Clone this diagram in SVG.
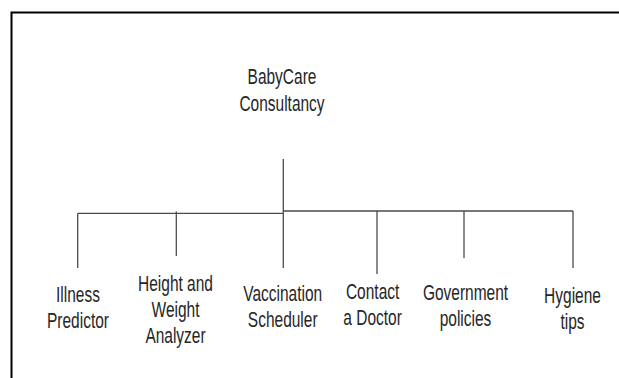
<svg xmlns="http://www.w3.org/2000/svg" width="619" height="378" viewBox="0 0 619 378">
<style>
.lbl{font-family:"Liberation Sans",Arial,sans-serif;font-size:15.5px;fill:#262626;text-anchor:middle}
.ln{stroke:#4a4a4a;stroke-width:1.3;fill:none}
.frame{stroke:#000;stroke-width:2;fill:none}
</style>
<rect width="619" height="378" fill="#fff"/>
<path class="frame" d="M11.5,378 V12.5 H619"/>
<g id="connectors">
<path class="ln" d="M283.3,159 V268"/>
<path class="ln" d="M77.7,213.3 H283.3"/>
<path class="ln" d="M283.3,211 H573"/>
<path class="ln" d="M77.7,213.3 V268"/>
<path class="ln" d="M176.3,211.5 V256"/>
<path class="ln" d="M377,211 V274"/>
<path class="ln" d="M464,211 V258"/>
<path class="ln" d="M573,211 V268"/>
</g>
<g id="root">
<text class="lbl" transform="translate(282,84) scale(1,1.38)"><tspan x="0" y="0">BabyCare</tspan><tspan x="0" y="19.6">Consultancy</tspan></text>
</g>
<g id="illness">
<text class="lbl" transform="translate(78,302) scale(1,1.38)"><tspan x="0" y="0">Illness</tspan><tspan x="0" y="19">Predictor</tspan></text>
</g>
<g id="height">
<text class="lbl" transform="translate(175.5,291) scale(1,1.38)"><tspan x="0" y="0">Height and</tspan><tspan x="0" y="18.8">Weight</tspan><tspan x="0" y="37.6">Analyzer</tspan></text>
</g>
<g id="vaccination">
<text class="lbl" transform="translate(282.7,301) scale(1,1.38)"><tspan x="0" y="0">Vaccination</tspan><tspan x="0" y="18.8">Scheduler</tspan></text>
</g>
<g id="doctor">
<text class="lbl" transform="translate(372.6,299) scale(1,1.38)"><tspan x="0" y="0">Contact</tspan><tspan x="0" y="18.8">a Doctor</tspan></text>
</g>
<g id="government">
<text class="lbl" transform="translate(465.5,300) scale(1,1.38)"><tspan x="0" y="0">Government</tspan><tspan x="0" y="18.8">policies</tspan></text>
</g>
<g id="hygiene">
<text class="lbl" transform="translate(572.5,303) scale(1,1.38)"><tspan x="0" y="0">Hygiene</tspan><tspan x="0" y="18.8">tips</tspan></text>
</g>
</svg>
